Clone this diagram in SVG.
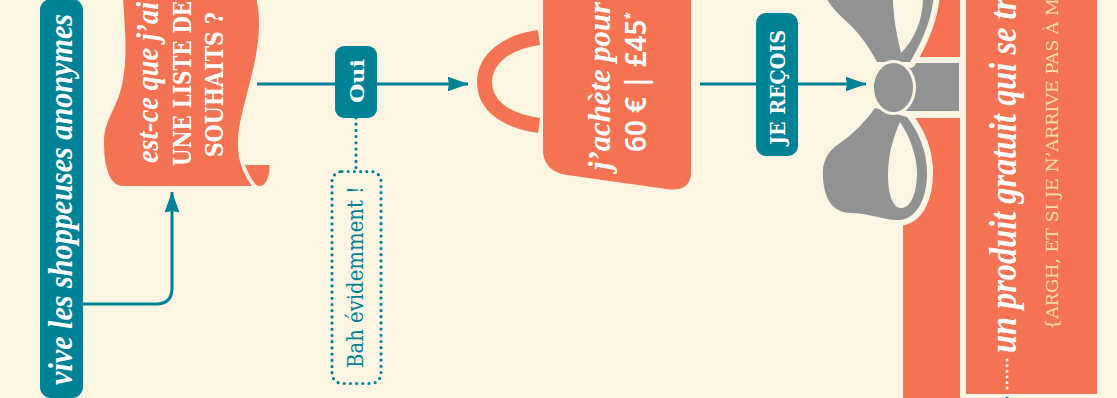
<svg xmlns="http://www.w3.org/2000/svg" width="1117" height="398" viewBox="0 0 1117 398">
<style>
.o{fill:#f37352}.t{fill:#008296}.g{fill:#919392}.c{fill:#fdf5e3}
.script{font-family:"Liberation Serif",serif;font-style:italic;font-weight:700;fill:#fff}
.slab{font-family:"DejaVu Serif",serif;font-weight:700;fill:#fff}
.line{fill:none;stroke:#008296;stroke-width:3}
.dot{fill:none;stroke:#008296;stroke-width:3.200;stroke-linecap:round;stroke-dasharray:0 6.200}
</style>
<defs>
<marker id="arrow" markerUnits="userSpaceOnUse" markerWidth="22" markerHeight="16" refX="20.500" refY="8" orient="auto">
<path d="M0 .5L21 8L0 15.500L1.500 8Z" fill="#008296"/>
</marker>
</defs>
<rect width="1117" height="398" class="c"/>
<g id="connectors">
<path class="line" d="M83 304H156Q172 304 172 288V192" marker-end="url(#arrow)"/>
<path class="line" d="M257 84H468" marker-end="url(#arrow)"/>
<path class="line" d="M700 84H866" marker-end="url(#arrow)"/>
<path class="dot" d="M356 118V170"/>
</g>
<g id="start">
<rect class="t" x="40" y="-1" width="43" height="399" rx="11"/>
<text class="script" transform="translate(72,385) rotate(-90)" font-size="33" textLength="371" lengthAdjust="spacingAndGlyphs">vive les shoppeuses anonymes</text>
</g>
<g id="wishlist">
<path class="o" d="M123 -2C125 30 128 55 122 85C117 108 104 120 104 142C104 168 110 186 123 186H252C242 172 237 158 238 140C239 110 259 65 259 25C259 14 258 5 256 -2Z"/>
<path class="o" d="M245 165H269.500C270 175 266 186 260 186C254 186 249 175 245 165Z"/>
<text class="script" transform="translate(158,163) rotate(-90)" font-size="31" textLength="161" lengthAdjust="spacingAndGlyphs">est-ce que j’ai</text>
<text class="slab" transform="translate(191,166) rotate(-90)" font-size="24" textLength="165" lengthAdjust="spacingAndGlyphs">UNE LISTE DE</text>
<text class="slab" transform="translate(223,157) rotate(-90)" font-size="24" textLength="145" lengthAdjust="spacingAndGlyphs">SOUHAITS ?</text>
</g>
<g id="oui">
<rect class="t" x="335" y="46" width="42" height="72" rx="9"/>
<text class="slab" transform="translate(364,103) rotate(-90)" font-size="19" textLength="44" lengthAdjust="spacingAndGlyphs">Oui</text>
</g>
<g id="evidemment">
<rect x="332" y="171.500" width="49" height="212" rx="10" class="dot"/>
<text transform="translate(363,368) rotate(-90)" font-family="DejaVu Serif, serif" font-size="23" fill="#008296" textLength="182" lengthAdjust="spacingAndGlyphs">Bah évidemment !</text>
</g>
<g id="bag">
<path fill="none" stroke="#f37352" stroke-width="15" d="M539 37.500C505 42 484.500 60 484.500 82C484.500 105 505 121 539 125.500"/>
<path class="o" d="M543 -2V150C543 165 553 173 567 175L670 189.500C682 190 691 186 691 172V-2Z"/>
<text class="script" transform="translate(610,170) rotate(-90)" font-size="31" textLength="168" lengthAdjust="spacingAndGlyphs">j’achète pour</text>
<text transform="translate(646,152) rotate(-90)" font-family="Noto Sans, sans-serif" font-weight="600" font-size="28" fill="#fff" textLength="140" lengthAdjust="spacingAndGlyphs">60 € | £45<tspan font-size="14" dy="-11">*</tspan></text>
</g>
<g id="recois">
<rect class="t" x="756" y="13" width="42" height="143" rx="10"/>
<text class="slab" transform="translate(785,145) rotate(-90)" font-size="20" textLength="115" lengthAdjust="spacingAndGlyphs">JE REÇOIS</text>
</g>
<g id="gift">
<rect class="o" x="903" y="118" width="57" height="282"/>
<rect class="o" x="903" y="-2" width="57" height="59"/>
<rect class="o" x="966" y="-2" width="131" height="396"/>
<rect class="c" x="905" y="57" width="55" height="6"/>
<rect class="g" x="905" y="63" width="54" height="48"/>
<rect class="c" x="905" y="111" width="55" height="7"/>
<g stroke="#fdf5e3" stroke-width="12" paint-order="stroke" stroke-linejoin="round">
<path id="loop-bottom" class="g" d="M875 108C865 122 852 135 840 143C826 152 822 163 823 177C824 197 831 212 850 213C870 213 885 221 900 220C918 218 927 197 927 173C927 150 918 131 907 117Z"/>
<path id="loop-top" class="g" d="M877 62C868 45 858 32 848 23C838 14 828 4 822 -10C826 -30 840 -40 860 -40H900C925 -40 937 -15 933 2C930 25 920 45 910 62Z"/>
</g>
<path class="c" d="M900 122C893 138 888 155 888 175C888 195 893 208 901 208C911 208 917 192 917 173C917 155 909 135 900 122Z"/>
<path class="c" d="M901 53C897 35 893 18 893 -2H923C923 20 914 40 901 53Z"/>
<ellipse class="g" cx="893.500" cy="87.500" rx="19.500" ry="24.500" stroke="#fdf5e3" stroke-width="6" paint-order="stroke"/>
<text class="script" transform="translate(1016,353) rotate(-90)" font-size="38" textLength="355" lengthAdjust="spacingAndGlyphs">un produit gratuit qui se tr</text>
<path d="M1007 360V388" fill="none" stroke="#fff" stroke-width="3" stroke-linecap="round" stroke-dasharray="0 5.600"/>
<text transform="translate(1058,330) rotate(-90)" font-family="DejaVu Serif, serif" font-size="17.500" fill="#f7dca8" textLength="332" lengthAdjust="spacingAndGlyphs">{ARGH, ET SI JE N’ARRIVE PAS À M</text>
</g>
<path class="dot" d="M1007 398V399"/>
</svg>
